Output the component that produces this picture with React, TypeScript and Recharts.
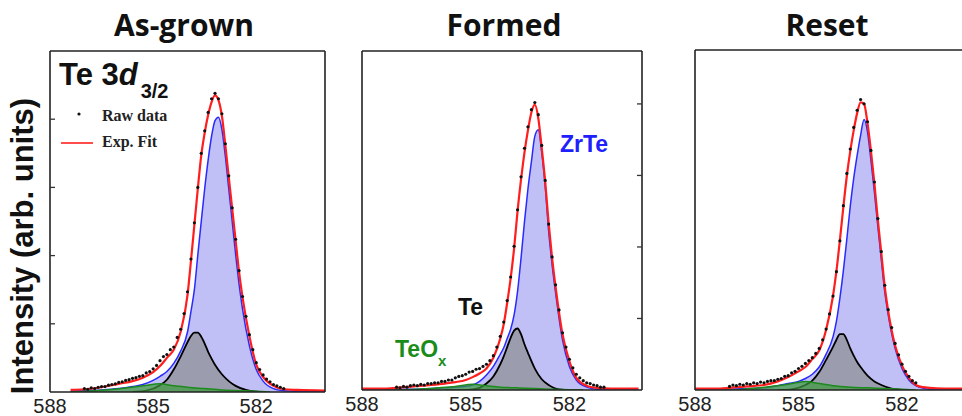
import React from 'react';
import { ComposedChart, Area, Line, XAxis, YAxis } from 'recharts';

// Binding energy grid (eV) for the fitted envelope and the ZrTe component
const fitEnergy = [588.0, 587.4, 587.0, 586.5, 586.0, 585.6, 585.3, 585.0, 584.8, 584.6, 584.4, 584.2, 584.0, 583.9, 583.8, 583.7, 583.6, 583.5, 583.4, 583.3, 583.2, 583.1, 583.0, 582.9, 582.8, 582.7, 582.6, 582.5, 582.4, 582.2, 582.0, 581.8, 581.5, 581.2, 580.8, 580.0];
// Grid for the Te component
const teEnergy = [585.6, 585.2, 584.8, 584.6, 584.4, 584.2, 584.0, 583.9, 583.8, 583.7, 583.6, 583.5, 583.4, 583.3, 583.2, 583.0, 582.8, 582.6, 582.3, 581.9];
// Grid for the TeOx component
const teOxEnergy = [587.4, 587.0, 586.4, 585.8, 585.3, 584.8, 584.4, 584.0, 583.5, 583.0, 582.5, 582.0, 581.6];
// Raw data energies
const rawEnergy = [587.0, 586.9, 586.8, 586.7, 586.6, 586.5, 586.4, 586.3, 586.2, 586.1, 586.0, 585.9, 585.8, 585.7, 585.6, 585.5, 585.4, 585.3, 585.2, 585.1, 585.0, 584.9, 584.8, 584.7, 584.6, 584.5, 584.4, 584.3, 584.2, 584.1, 584.0, 583.9, 583.8, 583.7, 583.6, 583.5, 583.4, 583.3, 583.2, 583.1, 583.0, 582.9, 582.8, 582.7, 582.6, 582.5, 582.4, 582.3, 582.2, 582.1, 582.0, 581.9, 581.8, 581.7, 581.6, 581.5, 581.4, 581.3, 581.2, 581.1, 581.0];

const xTicks = [588, 585, 582];

// As-grown
const fitAsGrown = [null, 0.03, 0.04, 0.07, 0.12, 0.16, 0.21, 0.29, 0.38, 0.50, 0.62, 0.88, 1.42, 1.92, 2.45, 2.98, 3.47, 3.80, 4.06, 4.25, 4.35, 4.28, 4.05, 3.62, 3.15, 2.69, 2.22, 1.76, 1.39, 0.82, 0.40, 0.22, 0.09, 0.04, 0.03, 0.02];
const zrTeAsGrown = [null, 0.01, 0.02, 0.03, 0.05, 0.08, 0.11, 0.17, 0.23, 0.30, 0.42, 0.60, 0.88, 1.18, 1.50, 2.01, 2.50, 2.98, 3.40, 3.75, 3.98, 4.03, 3.85, 3.46, 2.98, 2.50, 2.02, 1.58, 1.22, 0.68, 0.33, 0.16, 0.05, 0.02, 0.01, 0.0];
const teAsGrown = [0.0, 0.02, 0.10, 0.18, 0.33, 0.52, 0.73, 0.82, 0.87, 0.87, 0.81, 0.71, 0.59, 0.49, 0.40, 0.26, 0.16, 0.09, 0.03, 0.0];
const teOxAsGrown = [0.0, 0.01, 0.03, 0.06, 0.09, 0.12, 0.09, 0.07, 0.05, 0.03, 0.02, 0.01, 0.0];
const rawAsGrown = [0.05, 0.04, 0.06, 0.05, 0.07, 0.08, 0.08, 0.10, 0.11, 0.12, 0.14, 0.15, 0.17, 0.18, 0.20, 0.21, 0.23, 0.24, 0.28, 0.30, 0.34, 0.39, 0.46, 0.52, 0.55, 0.62, 0.66, 0.80, 0.92, 1.15, 1.47, 1.95, 2.48, 3.00, 3.50, 3.83, 4.10, 4.30, 4.38, 4.30, 4.08, 3.64, 3.17, 2.70, 2.24, 1.78, 1.40, 1.11, 0.84, 0.62, 0.43, 0.33, 0.25, 0.19, 0.15, 0.11, 0.09, 0.07, 0.05];

// Formed
const fitFormed = [0.02, 0.02, 0.03, 0.05, 0.07, 0.09, 0.11, 0.14, 0.18, 0.23, 0.30, 0.45, 0.72, 0.92, 1.22, 1.56, 1.98, 2.50, 2.94, 3.32, 3.63, 3.88, 3.99, 3.80, 3.38, 2.91, 2.33, 1.84, 1.44, 0.78, 0.40, 0.17, 0.06, 0.03, 0.02, 0.02];
const zrTeFormed = [0.0, 0.0, 0.01, 0.01, 0.02, 0.03, 0.04, 0.05, 0.07, 0.12, 0.21, 0.33, 0.50, 0.59, 0.72, 0.85, 1.05, 1.38, 1.84, 2.35, 2.81, 3.19, 3.55, 3.64, 3.32, 2.85, 2.22, 1.75, 1.36, 0.70, 0.33, 0.14, 0.04, 0.01, 0.0, 0.0];
const teFormed = [0.0, 0.0, 0.01, 0.03, 0.09, 0.19, 0.36, 0.47, 0.60, 0.73, 0.83, 0.86, 0.78, 0.64, 0.52, 0.30, 0.15, 0.07, 0.01, 0.0];
const teOxFormed = [0.0, 0.0, 0.01, 0.03, 0.05, 0.08, 0.06, 0.04, 0.03, 0.02, 0.01, 0.005, 0.0];
const rawFormed = [0.04, 0.03, 0.05, 0.04, 0.06, 0.07, 0.06, 0.08, 0.07, 0.09, 0.09, 0.10, 0.10, 0.12, 0.12, 0.14, 0.14, 0.17, 0.19, 0.20, 0.22, 0.25, 0.26, 0.29, 0.30, 0.33, 0.36, 0.41, 0.48, 0.60, 0.75, 0.95, 1.25, 1.58, 2.01, 2.52, 2.98, 3.38, 3.68, 3.92, 4.02, 3.85, 3.42, 2.93, 2.32, 1.86, 1.47, 1.12, 0.80, 0.60, 0.43, 0.31, 0.22, 0.17, 0.13, 0.10, 0.09, 0.07, 0.06, 0.04, 0.04];

// Reset
const fitReset = [0.02, 0.02, 0.03, 0.05, 0.07, 0.12, 0.18, 0.26, 0.32, 0.43, 0.55, 0.84, 1.31, 1.66, 2.09, 2.55, 2.98, 3.33, 3.62, 3.86, 4.01, 3.99, 3.72, 3.33, 2.88, 2.37, 1.91, 1.44, 1.10, 0.62, 0.34, 0.17, 0.05, 0.03, 0.02, 0.02];
const zrTeReset = [0.0, 0.0, 0.01, 0.02, 0.03, 0.06, 0.09, 0.12, 0.16, 0.22, 0.32, 0.50, 0.74, 0.96, 1.28, 1.66, 2.10, 2.56, 2.95, 3.27, 3.55, 3.77, 3.60, 3.20, 2.76, 2.28, 1.82, 1.37, 1.05, 0.58, 0.30, 0.14, 0.04, 0.01, 0.0, 0.0];
const teReset = [0.0, 0.01, 0.07, 0.13, 0.25, 0.42, 0.60, 0.70, 0.78, 0.78, 0.70, 0.58, 0.48, 0.39, 0.32, 0.20, 0.12, 0.07, 0.02, 0.0];
const teOxReset = [0.0, 0.0, 0.02, 0.05, 0.08, 0.12, 0.09, 0.06, 0.04, 0.03, 0.02, 0.01, 0.0];
const rawReset = [0.05, 0.07, 0.06, 0.08, 0.07, 0.09, 0.08, 0.10, 0.09, 0.11, 0.10, 0.12, 0.13, 0.13, 0.15, 0.16, 0.19, 0.20, 0.24, 0.26, 0.30, 0.33, 0.37, 0.41, 0.45, 0.51, 0.58, 0.70, 0.85, 1.06, 1.31, 1.65, 2.08, 2.57, 3.02, 3.36, 3.66, 3.90, 4.05, 3.99, 3.74, 3.34, 2.90, 2.39, 1.93, 1.46, 1.12, 0.87, 0.65, 0.49, 0.36, 0.26, 0.19, 0.13, 0.10];

type Part = { energies: number[]; values: (number | null)[]; key: string };

function buildRows(parts: Part[]) {
  const map = new Map<string, any>();
  parts.forEach(({ energies, values, key }) => {
    values.forEach((v, i) => {
      const e = energies[i];
      const k = e.toFixed(2);
      const row = map.get(k) ?? { e };
      row[key] = v;
      map.set(k, row);
    });
  });
  return Array.from(map.values()).sort((a, b) => a.e - b.e);
}

const panelRows = (fit: any[], zrte: any[], te: any[], teox: any[], raw: any[]) =>
  buildRows([
    { energies: fitEnergy, values: fit, key: 'fit' },
    { energies: fitEnergy, values: zrte, key: 'zrte' },
    { energies: teEnergy, values: te, key: 'te' },
    { energies: teOxEnergy, values: teox, key: 'teox' },
    { energies: rawEnergy, values: raw, key: 'raw' },
  ]);

const FONT = '"Liberation Sans", Arial, sans-serif';
const FRAME = { stroke: '#222', strokeWidth: 1.6 };
const HIDDEN_TICK = { fill: 'none', fontSize: 1 };
const noLabel = () => '';

type PanelProps = {
  rows: any[];
  left: number;
  width: number;
  margin: { top: number; right: number; bottom: number; left: number };
  xDomain: [number, number];
  yDomain: [number, number];
  yTicks: number[];
  tickSide: 'left' | 'right' | 'none';
  xHeight: number;
};

function Panel({ rows, left, width, margin, xDomain, yDomain, yTicks, tickSide, xHeight }: PanelProps) {
  const leftTicks = tickSide === 'left';
  const rightTicks = tickSide === 'right';
  return (
    <div style={{ position: 'absolute', left, top: 0, width, height: 416, fontFamily: FONT }}>
      <ComposedChart width={width} height={416} data={rows} margin={margin}>
        <XAxis
          dataKey="e"
          type="number"
          domain={xDomain}
          reversed
          allowDataOverflow
          ticks={xTicks}
          interval={0}
          tickLine={false}
          axisLine={FRAME}
          tickSize={0}
          tickMargin={7}
          height={xHeight}
          tick={{ fontSize: 20, fill: '#222', fontFamily: FONT }}
        />
        <XAxis
          xAxisId="top"
          dataKey="e"
          type="number"
          orientation="top"
          domain={xDomain}
          reversed
          allowDataOverflow
          ticks={xTicks}
          interval={0}
          tickLine={false}
          axisLine={FRAME}
          height={1}
          tick={HIDDEN_TICK}
          tickFormatter={noLabel}
        />
        <YAxis
          type="number"
          domain={yDomain}
          allowDataOverflow
          ticks={yTicks}
          orientation={rightTicks ? 'right' : 'left'}
          width={1}
          interval={0}
          tick={HIDDEN_TICK}
          tickFormatter={noLabel}
          tickSize={-5}
          axisLine={FRAME}
          tickLine={leftTicks || rightTicks ? { stroke: '#333', strokeWidth: 1.3 } : false}
        />
        <YAxis
          yAxisId="other"
          type="number"
          domain={yDomain}
          allowDataOverflow
          ticks={[0]}
          orientation={rightTicks ? 'left' : 'right'}
          width={1}
          tick={HIDDEN_TICK}
          tickFormatter={noLabel}
          tickLine={false}
          axisLine={FRAME}
        />
        <Area dataKey="zrte" type="monotone" stroke="#2a2aff" strokeWidth={1.5} fill="#c0c0f6" fillOpacity={1} connectNulls dot={false} activeDot={false} isAnimationActive={false} />
        <Area dataKey="te" type="monotone" stroke="#000" strokeWidth={1.8} fill="#9c9caf" fillOpacity={1} connectNulls dot={false} activeDot={false} isAnimationActive={false} />
        <Area dataKey="teox" type="monotone" stroke="#1c8a1c" strokeWidth={1.5} fill="#3d9a3d" fillOpacity={0.7} connectNulls dot={false} activeDot={false} isAnimationActive={false} />
        <Line dataKey="fit" type="monotone" stroke="#ff1e1e" strokeWidth={2.2} connectNulls dot={false} activeDot={false} isAnimationActive={false} />
        <Line dataKey="raw" stroke="none" dot={{ r: 1.6, fill: '#111', stroke: 'none' }} activeDot={false} isAnimationActive={false} />
      </ComposedChart>
    </div>
  );
}

export default function App() {
  const rowsA = panelRows(fitAsGrown, zrTeAsGrown, teAsGrown, teOxAsGrown, rawAsGrown);
  const rowsF = panelRows(fitFormed, zrTeFormed, teFormed, teOxFormed, rawFormed);
  const rowsR = panelRows(fitReset, zrTeReset, teReset, teOxReset, rawReset);
  return (
    <div style={{ position: 'fixed', left: 0, top: 0, width: 962, height: 416, overflow: 'hidden', background: '#fff' }}>
      <Panel rows={rowsA} left={0} width={340} margin={{ top: 50, right: 14, bottom: 0, left: 49 }} xDomain={[580, 588]} yDomain={[0, 5]} yTicks={[1, 2, 3, 4]} tickSide="left" xHeight={24} />
      <Panel rows={rowsF} left={330} width={330} margin={{ top: 50, right: 17, bottom: 0, left: 31 }} xDomain={[579.9, 588]} yDomain={[0, 4.74]} yTicks={[1, 2, 3, 4]} tickSide="right" xHeight={26} />
      <Panel rows={rowsR} left={660} width={330} margin={{ top: 49, right: 18, bottom: 0, left: 34 }} xDomain={[580, 588]} yDomain={[0, 4.74]} yTicks={[0]} tickSide="none" xHeight={26} />
      <svg width={962} height={416} style={{ position: 'absolute', left: 0, top: 0, pointerEvents: 'none' }}>
        <g fontFamily='"Open Sans", sans-serif' fontWeight="bold" fontSize={30} fill="#111" textAnchor="middle">
          <text x={184} y={36}>As-grown</text>
          <text x={504} y={36}>Formed</text>
          <text x={827} y={36}>Reset</text>
        </g>
        <text transform="translate(33,246) rotate(-90)" textAnchor="middle" fontFamily={FONT} fontWeight="bold" fontSize={31} fill="#111">
          Intensity (arb. units)
        </text>
        <text x={59} y={85} fontFamily={FONT} fontWeight="bold" fontSize={31} fill="#111">
          Te 3<tspan fontStyle="italic">d</tspan>
          <tspan fontSize={20} dx={3} dy={13}>3/2</tspan>
        </text>
        <circle cx={79} cy={114} r={1.6} fill="#111" />
        <text x={102} y={121} fontFamily='"Liberation Serif", serif' fontWeight="bold" fontSize={16} fill="#222">Raw data</text>
        <line x1={61} y1={143} x2={93} y2={143} stroke="#ff4d4d" strokeWidth={2} />
        <text x={102} y={147} fontFamily='"Liberation Serif", serif' fontWeight="bold" fontSize={16} fill="#222">Exp. Fit</text>
        <g fontFamily={FONT} fontWeight="bold" fontSize={23}>
          <text x={560} y={152} fill="#2020ff">ZrTe</text>
          <text x={458} y={315} fill="#111">Te</text>
          <text x={395} y={357} fill="#1a8c1a">
            TeO<tspan fontSize={15} dy={9}>x</tspan>
          </text>
        </g>
      </svg>
    </div>
  );
}
